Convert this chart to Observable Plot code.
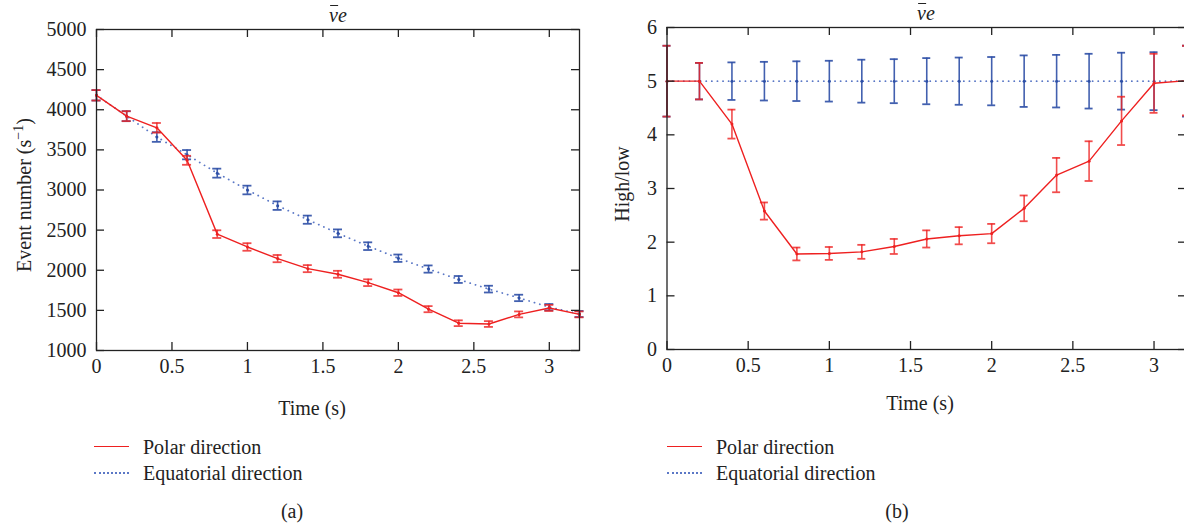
<!DOCTYPE html>
<html>
<head>
<meta charset="utf-8">
<script src="https://cdn.jsdelivr.net/npm/d3@7"></script>
<script src="https://cdn.jsdelivr.net/npm/@observablehq/plot@0.6"></script>
<style>
  html, body { margin: 0; padding: 0; background: #fff; }
  body { width: 1184px; height: 527px; overflow: hidden; position: relative; font-family: "Liberation Serif", serif; color: #222; }
  .abs { position: absolute; white-space: nowrap; line-height: 1; }
  .panel { position: absolute; top: 0; width: 600px; height: 430px; }
  .panel svg { max-width: none !important; }
  .title { font-style: italic; font-size: 20px; transform: translateX(-50%); }
  .nu { position: relative; }
  .nu::before { content: ""; position: absolute; left: 1px; right: 0px; top: 1px; border-top: 1.3px solid #222; }
  .lab { font-size: 20px; }
  .ylab { font-size: 20px; transform: translate(-50%, -50%) rotate(-90deg); }
  .leg { font-size: 20px; }
  .legline { position: absolute; width: 35px; height: 0; }
</style>
</head>
<body>
<div id="left" class="panel" style="left:0px"></div>
<div id="right" class="panel" style="left:600px"></div>

<div class="abs title" style="left:338px; top:5px"><span class="nu">ν</span>e</div>
<div class="abs title" style="left:926px; top:3px"><span class="nu">ν</span>e</div>

<div class="abs ylab" style="left:23px; top:195px">Event number (s<sup style="font-size:14px">−1</sup>)</div>
<div class="abs ylab" style="left:622px; top:184px">High/low</div>

<div class="abs lab" style="left:312px; top:398px; transform:translateX(-50%)">Time (s)</div>
<div class="abs lab" style="left:920px; top:393px; transform:translateX(-50%)">Time (s)</div>

<div class="legline" style="left:94px; top:446px; border-top:1.5px solid #ee2020"></div>
<div class="abs leg" style="left:143px; top:437px">Polar direction</div>
<div class="legline" style="left:94px; top:472px; border-top:2px dotted #5b78c6"></div>
<div class="abs leg" style="left:143px; top:463px">Equatorial direction</div>

<div class="legline" style="left:667px; top:446px; border-top:1.5px solid #ee2020"></div>
<div class="abs leg" style="left:716px; top:437px">Polar direction</div>
<div class="legline" style="left:667px; top:472px; border-top:2px dotted #5b78c6"></div>
<div class="abs leg" style="left:716px; top:463px">Equatorial direction</div>

<div class="abs lab" style="left:292px; top:501px; transform:translateX(-50%)">(a)</div>
<div class="abs lab" style="left:897px; top:501px; transform:translateX(-50%)">(b)</div>

<script>
// ---- Data ----
const time = [0, 0.2, 0.4, 0.6, 0.8, 1.0, 1.2, 1.4, 1.6, 1.8, 2.0, 2.2, 2.4, 2.6, 2.8, 3.0, 3.2];

// (a) Event number (s^-1)
const polarCount      = [4180, 3920, 3775, 3370, 2450, 2290, 2145, 2020, 1950, 1845, 1720, 1515, 1340, 1330, 1450, 1530, 1450];
const polarCountErr   = [65, 62, 60, 56, 48, 47, 45, 44, 43, 42, 40, 38, 36, 36, 37, 38, 37];
const equatorialCount    = [4180, 3920, 3660, 3440, 3210, 3000, 2805, 2630, 2460, 2300, 2150, 2015, 1885, 1765, 1655, 1540, 1455];
const equatorialCountErr = [65, 62, 60, 58, 56, 54, 53, 51, 49, 48, 46, 45, 43, 42, 40, 39, 38];

// (b) High/low ratio
const polarRatio         = [5.0, 5.0, 4.2, 2.58, 1.78, 1.79, 1.82, 1.92, 2.06, 2.12, 2.16, 2.63, 3.25, 3.51, 4.26, 4.96, 5.01];
const polarRatioErr      = [0.66, 0.34, 0.27, 0.16, 0.12, 0.12, 0.13, 0.14, 0.16, 0.16, 0.18, 0.24, 0.32, 0.37, 0.45, 0.55, 0.65];
const equatorialRatio    = [5.0, 5.0, 5.0, 5.0, 5.0, 5.0, 5.0, 5.0, 5.0, 5.0, 5.0, 5.0, 5.0, 5.0, 5.0, 5.0, 5.0];
const equatorialRatioErr = [0.66, 0.34, 0.35, 0.36, 0.37, 0.38, 0.40, 0.41, 0.43, 0.44, 0.45, 0.48, 0.49, 0.51, 0.53, 0.54, 0.66];

// Ticks
const xTicks = [0, 0.5, 1, 1.5, 2, 2.5, 3];
const xTickLabels = ["0", "0.5", "1", "1.5", "2", "2.5", "3"];
const yTicksA = [1000, 1500, 2000, 2500, 3000, 3500, 4000, 4500, 5000];
const yTicksB = [0, 1, 2, 3, 4, 5, 6];

const RED = "#ee2020";
const BLUE = "#2d4fa6";
const BLUE_LINE = "#5b78c6";

function rows(vals, errs) {
  return time.map((t, i) => ({t, v: vals[i], lo: vals[i] - errs[i], hi: vals[i] + errs[i]}));
}

function panel({polar, equat, yDomain, yTicks, ml, mr, mt, mb, width, height, capW}) {
  const plotW = width - ml - mr;
  const plotH = height - mt - mb;
  const tick = 8;
  const series = (data, color, lineOpts, op) => [
    Plot.line(data, {x: "t", y: "v", stroke: lineOpts.stroke, strokeWidth: lineOpts.w, strokeDasharray: lineOpts.dash, strokeLinecap: "round"}),
    Plot.ruleX(data, {x: "t", y1: "lo", y2: "hi", stroke: color, strokeWidth: 1.6, strokeOpacity: op}),
    Plot.ruleY(data, {y: "lo", x1: "t", x2: "t", insetLeft: -capW, insetRight: -capW, stroke: color, strokeWidth: 1.8, strokeOpacity: op}),
    Plot.ruleY(data, {y: "hi", x1: "t", x2: "t", insetLeft: -capW, insetRight: -capW, stroke: color, strokeWidth: 1.8, strokeOpacity: op}),
    Plot.dot(data, {x: "t", y: "v", r: 1.5, fill: color, stroke: null})
  ];
  return Plot.plot({
    width, height,
    marginLeft: ml, marginRight: mr, marginTop: mt, marginBottom: mb,
    style: {fontFamily: "Liberation Serif, serif", fontSize: "20px", color: "#222", background: "transparent", overflow: "visible", maxWidth: "none"},
    x: {domain: [0, 3.2]},
    y: {domain: yDomain},
    marks: [
      ...series(equat, BLUE, {stroke: BLUE_LINE, w: 1.8, dash: "0.1,5.5"}, 0.9),
      ...series(polar, RED, {stroke: RED, w: 1.4, dash: null}, 0.8),
      Plot.frame({stroke: "#222", strokeWidth: 1.3}),
      // inward ticks on all four sides
      Plot.tickY(yTicks, {y: d => d, insetRight: plotW - tick, stroke: "#222", strokeWidth: 1.3}),
      Plot.tickY(yTicks, {y: d => d, insetLeft: plotW - tick, stroke: "#222", strokeWidth: 1.3}),
      Plot.tickX(xTicks, {x: d => d, insetTop: plotH - tick, stroke: "#222", strokeWidth: 1.3}),
      Plot.tickX(xTicks, {x: d => d, insetBottom: plotH - tick, stroke: "#222", strokeWidth: 1.3}),
      Plot.axisY({ticks: yTicks, tickSize: 0, tickPadding: 10, label: null, tickFormat: d => String(d), fill: "#222"}),
      Plot.axisX({ticks: xTicks, tickSize: 0, tickPadding: 8, label: null, tickFormat: (d, i) => xTickLabels[i], fill: "#222"})
    ]
  });
}

document.getElementById("left").append(panel({
  polar: rows(polarCount, polarCountErr),
  equat: rows(equatorialCount, equatorialCountErr),
  yDomain: [1000, 5000], yTicks: yTicksA,
  width: 600, height: 430, ml: 96, mr: 21, mt: 29, mb: 80, capW: 4.5
}));

document.getElementById("right").append(panel({
  polar: rows(polarRatio, polarRatioErr),
  equat: rows(equatorialRatio, equatorialRatioErr),
  yDomain: [0, 6], yTicks: yTicksB,
  width: 600, height: 430, ml: 66.5, mr: 14, mt: 27, mb: 81, capW: 4
}));
</script>
</body>
</html>
